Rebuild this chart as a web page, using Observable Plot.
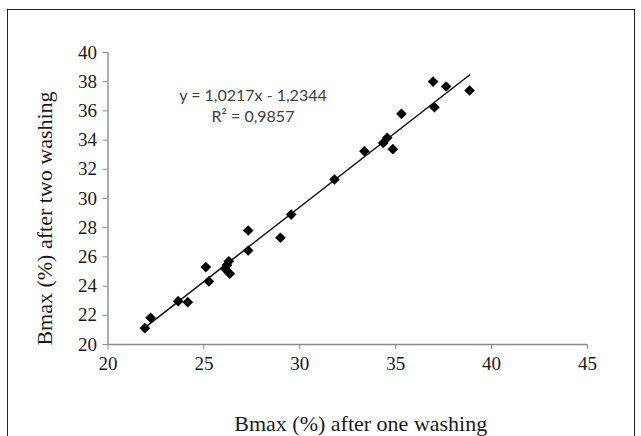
<!DOCTYPE html>
<html>
<head>
<meta charset="utf-8">
<script src="https://cdn.jsdelivr.net/npm/d3@7"></script>
<script src="https://cdn.jsdelivr.net/npm/@observablehq/plot@0.6"></script>
<style>
  html, body { margin: 0; padding: 0; background: #fff; }
  #wrap { position: relative; width: 641px; height: 436px; overflow: hidden; }
  #frame { position: absolute; left: 7px; top: 9px; width: 628px; height: 460px;
           border: 1.5px solid #222; pointer-events: none; box-sizing: border-box; }
</style>
</head>
<body>
<div id="wrap"><div id="frame"></div></div>
<script>
// Bmax (%) after one washing
const oneWashing = [21.92, 22.22, 23.66, 24.16, 25.10, 25.26, 26.10, 26.20, 26.30, 26.35,
                    27.31, 27.31, 28.99, 29.55, 31.81, 33.37, 34.35, 34.56, 34.85, 35.30,
                    36.95, 37.02, 37.63, 38.85];
// Bmax (%) after two washing
const twoWashing = [21.12, 21.83, 22.97, 22.90, 25.30, 24.32, 25.20, 25.45, 25.70, 24.85,
                    27.81, 26.44, 27.31, 28.90, 31.30, 33.24, 33.80, 34.16, 33.38, 35.80,
                    38.01, 36.25, 37.67, 37.40];
// Trend line coefficients (as printed on the chart)
const slope = [1.0217];
const intercept = [-1.2344];
const equationLines = ["y = 1,0217x - 1,2344", "R\u00b2 = 0,9857"];
// Axis ticks and titles
const xTicks = [20, 25, 30, 35, 40, 45];
const yTicks = [20, 22, 24, 26, 28, 30, 32, 34, 36, 38, 40];
const xTitle = "Bmax (%) after one washing";
const yTitle = "Bmax (%) after two washing";

const points = oneWashing.map((x, i) => ({x, y: twoWashing[i]}));
const [xmin, xmax] = d3.extent(oneWashing);
const trend = [xmin, xmax].map(x => ({x, y: slope[0] * x + intercept[0]}));

const serif = "'Liberation Serif', 'Times New Roman', serif";
const sans = "Lato, 'Open Sans', sans-serif";

const chart = Plot.plot({
  width: 641,
  height: 436,
  marginLeft: 107.5,
  marginRight: 54,
  marginTop: 52,
  marginBottom: 92,
  style: {fontFamily: serif, fontSize: "19px", background: "transparent", overflow: "visible"},
  x: {domain: [20, 45]},
  y: {domain: [20, 40]},
  marks: [
    Plot.ruleX([20], {stroke: "#8c8c8c", strokeWidth: 1.4}),
    Plot.ruleY([20], {stroke: "#8c8c8c", strokeWidth: 1.4}),
    Plot.axisX({ticks: xTicks, tickSize: 5, tickPadding: 7, stroke: "#8c8c8c", fill: "#1a1a1a",
                fontSize: 19, fontFamily: serif, label: null, tickFormat: d => String(d)}),
    Plot.axisY({ticks: yTicks, tickSize: 5, tickPadding: 6, stroke: "#8c8c8c", fill: "#1a1a1a",
                fontSize: 19, fontFamily: serif, label: null, tickFormat: d => String(d)}),
    Plot.line(trend, {x: "x", y: "y", stroke: "#111", strokeWidth: 1.5}),
    Plot.dot(points, {x: "x", y: "y", symbol: "diamond2", r: 4.8, fill: "#000", stroke: null}),
    Plot.text([equationLines[0]], {frameAnchor: "top-left", text: d => d, dx: 145, dy: 43,
               lineAnchor: "middle", textAnchor: "middle",
               fontFamily: sans, fontSize: 16, fill: "#404040"}),
    Plot.text([equationLines[1]], {frameAnchor: "top-left", text: d => d, dx: 145, dy: 64,
               lineAnchor: "middle", textAnchor: "middle",
               fontFamily: sans, fontSize: 16, fill: "#404040"}),
    Plot.text([xTitle], {frameAnchor: "bottom", text: d => d, dx: 13, dy: 79,
               lineAnchor: "middle", textAnchor: "middle",
               fontFamily: serif, fontSize: 22, fill: "#1a1a1a"}),
    Plot.text([yTitle], {frameAnchor: "left", text: d => d, dx: -63, dy: 20, rotate: -90,
               lineAnchor: "middle", textAnchor: "middle",
               fontFamily: serif, fontSize: 22, fill: "#1a1a1a"})
  ]
});
document.getElementById("wrap").prepend(chart);
</script>
</body>
</html>
